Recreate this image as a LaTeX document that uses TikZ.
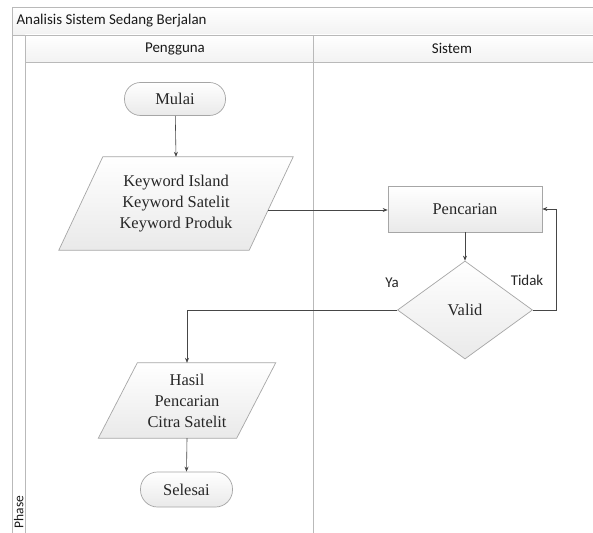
\documentclass[tikz,border=0pt]{standalone}
\usepackage{fontspec}
\setmainfont{Liberation Serif}
\newfontfamily\lanefont{Carlito}
\usetikzlibrary{shapes.geometric,calc,arrows.meta,backgrounds}
\begin{document}
\begin{tikzpicture}[x=1bp,y=-1bp,
  lane/.style={draw=gray!55, line width=0.8bp},
  band/.style={lane, top color=white, bottom color=gray!10},
  flowfill/.style={draw=gray!70, line width=0.7bp, top color=white, bottom color=gray!17},
  flowtext/.style={font=\fontsize{16.5}{21}\selectfont, text=black!85, align=center},
  term/.style={flowfill, flowtext, rounded corners=16bp, minimum width=101bp, minimum height=33bp},
  proc/.style={flowfill, flowtext, minimum width=154bp, minimum height=46bp},
  dec/.style={flowfill, flowtext, diamond, minimum width=135bp, minimum height=98bp, inner sep=0pt},
  io/.style={flowtext, rectangle, inner sep=0pt},
  flow/.style={draw=gray!55!black, line width=0.6bp, -{Stealth[length=5bp,width=4bp]}},
  lanetext/.style={font=\lanefont\fontsize{15}{18}\selectfont, text=black!90},
  lbl/.style={font=\lanefont\fontsize{15}{18}\selectfont, text=black!85}
]
\useasboundingbox (0,0) rectangle (593,533);

% pool frame: title band, lane headers, phase column
\path[band] (12,7) rectangle (600,35);
\path[band] (25,35) rectangle (600,62);
\draw[lane] (12,35) -- (12,540);
\draw[lane] (25,35) -- (25,540);
\draw[lane] (313,35) -- (313,540);
\node[lanetext, anchor=west] (title) at (13,21) {Analisis Sistem Sedang Berjalan};
\node[lanetext] (laneA) at (175,48.5) {Pengguna};
\node[lanetext] (laneB) at (452,48.5) {Sistem};
\node[lanetext, font=\lanefont\fontsize{13.5}{16}\selectfont, rotate=90] (phase) at (18.8,512) {Phase};

% flow nodes
\node[term] (mu) at (175,99) {Mulai};
\node[io, minimum width=190bp, minimum height=93bp] (kw) at (176,203.5) {Keyword Island\\Keyword Satelit\\Keyword Produk};
\node[proc] (pc) at (465,209) {Pencarian};
\node[dec] (dv) at (465,310) {Valid};
\node[io, minimum width=138bp, minimum height=75bp] (hs) at (187,400.5) {Hasil\\Pencarian\\Citra Satelit};
\node[term, minimum width=92bp, minimum height=35bp, rounded corners=17bp] (se) at (186.5,489.5) {Selesai};

% page ground and parallelogram outlines behind the input/output texts
\begin{pgfonlayer}{background}
  \fill[white] (0,0) rectangle (593,533);
  \path[flowfill] ($(kw.north west)+(22,0)$) -- ($(kw.north east)+(22,0)$)
     -- ($(kw.south east)+(-22,0)$) -- ($(kw.south west)+(-22,0)$) -- cycle;
  \path[flowfill] ($(hs.north west)+(19.5,0)$) -- ($(hs.north east)+(19.5,0)$)
     -- ($(hs.south east)+(-19.5,0)$) -- ($(hs.south west)+(-19.5,0)$) -- cycle;
\end{pgfonlayer}

% connectors
\coordinate (kwout) at ($(kw.east)+(-3,6.5)$);
\draw[flow] (mu) -- (kw.north);
\draw[flow] (kwout) -- (kwout -| pc.west);
\draw[flow] (pc) -- (dv.north);
\draw[flow] (dv.west) -- (hs.north |- dv.west) -- (hs.north);
\draw[flow] (dv.east) -- ++(23,0) |- (pc.east);
\draw[flow] (hs.south) -- (se.north);

% branch labels
\node[lbl] (ya) at (392,283) {Ya};
\node[lbl] (tidak) at (527,280) {Tidak};
\end{tikzpicture}
\end{document}
